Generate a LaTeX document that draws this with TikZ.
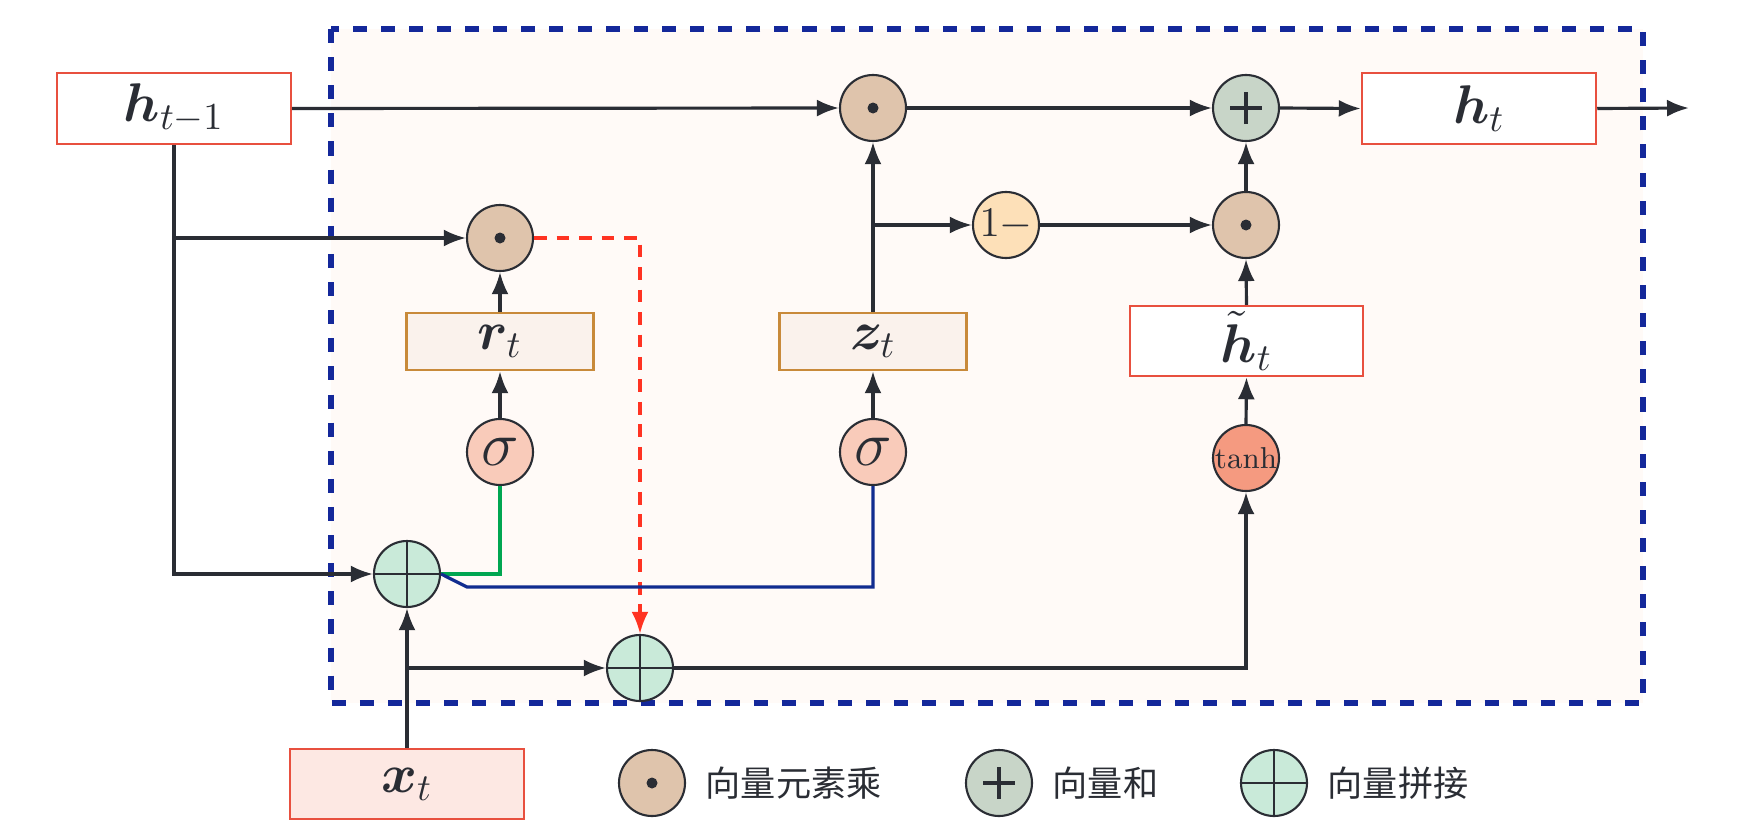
\documentclass[tikz,border=0pt]{standalone}
\usepackage{fix-cm}
\usepackage{amsmath}
\usepackage{bm}
\usepackage{fontspec}
\newfontfamily\cjk{Noto Sans CJK SC}
\usetikzlibrary{positioning,arrows.meta,calc}
\definecolor{inkc}{HTML}{2A2D34}
\definecolor{boxred}{HTML}{E8503F}
\definecolor{gatebd}{HTML}{C88A3A}
\definecolor{gatefill}{HTML}{FAF2EC}
\definecolor{xfill}{HTML}{FDE8E3}
\definecolor{cellbg}{HTML}{FFFAF7}
\definecolor{cellbd}{HTML}{14289A}
\definecolor{mulfill}{HTML}{DFC4AC}
\definecolor{addfill}{HTML}{C8D5C8}
\definecolor{catfill}{HTML}{C9EAD9}
\definecolor{onefill}{HTML}{FDE0B8}
\definecolor{sigfill}{HTML}{F9CBBA}
\definecolor{tanhfill}{HTML}{F59A80}
\definecolor{resetred}{HTML}{FF3322}
\definecolor{rgreen}{HTML}{00A651}
\definecolor{zblue}{HTML}{112C8F}
\newcommand{\lblfont}{\fontsize{15.5pt}{18pt}\selectfont}
\tikzset{
  gruarr/.style={-{Latex[length=2.2mm,width=1.7mm]},line width=0.9pt,draw=inkc},
  resetarr/.style={-{Latex[length=2.2mm,width=1.7mm]},line width=1pt,draw=resetred,
                   dash pattern=on 3.6pt off 2.8pt},
  gateline/.style={line width=0.9pt},
  cellframe/.style={draw=cellbd,fill=cellbg,line width=1.5pt,dash pattern=on 4pt off 4pt},
  vecbox/.style={draw=boxred,line width=0.7pt,fill=white,minimum width=2.34cm,minimum height=0.71cm,
                 inner sep=0pt,text=inkc,font=\lblfont},
  gatebox/.style={draw=gatebd,line width=0.7pt,fill=gatefill,minimum width=1.87cm,minimum height=0.57cm,
                  inner sep=0pt,text=inkc,font=\lblfont},
  opnode/.style={circle,draw=inkc,line width=0.6pt,minimum size=0.66cm,inner sep=0pt,text=inkc},
  mulop/.style={opnode,fill=mulfill,
                path picture={\fill[inkc] (path picture bounding box.center) circle (0.055cm);}},
  addop/.style={opnode,fill=addfill,
                path picture={\draw[inkc,line width=1.1pt]
                  ([xshift=-0.16cm]path picture bounding box.center) -- ([xshift=0.16cm]path picture bounding box.center)
                  ([yshift=-0.16cm]path picture bounding box.center) -- ([yshift=0.16cm]path picture bounding box.center);}},
  catop/.style={opnode,fill=catfill,
                path picture={\draw[inkc,line width=0.6pt]
                  (path picture bounding box.north) -- (path picture bounding box.south)
                  (path picture bounding box.west) -- (path picture bounding box.east);}},
  actop/.style={opnode,font=\fontsize{18pt}{20pt}\selectfont},
  legtext/.style={text=inkc,font=\cjk\fontsize{10pt}{12pt}\selectfont,inner sep=2pt}
}
\begin{document}
\begin{tikzpicture}
\useasboundingbox (0,0) rectangle (17.55,-8.40);
\draw[cellframe] (3.31,-0.29) rectangle (16.43,-7.03);

\node[vecbox] (hprev) at (1.74,-1.085) {$\bm{h}_{t-1}$};
\node[vecbox] (hnew) at (14.79,-1.085) {$\bm{h}_{t}$};
\node[vecbox, minimum width=2.33cm, minimum height=0.70cm] (htil) at (12.465,-3.41) {$\tilde{\bm{h}}_{t}$};
\node[vecbox, fill=xfill, minimum height=0.70cm] (xt) at (4.07,-7.84) {$\bm{x}_{t}$};
\node[gatebox] (rbox) at (5.0,-3.415) {$\bm{r}_{t}$};
\node[gatebox] (zbox) at (8.73,-3.415) {$\bm{z}_{t}$};

\node[mulop] (mtop) at (8.73,-1.08) {};
\node[addop] (addn) at (12.46,-1.08) {};
\node[mulop] (mr) at (5.0,-2.38) {};
\node[opnode, fill=onefill, font=\fontsize{12pt}{14pt}\selectfont] (one) at (10.06,-2.25) {$1-$};
\node[mulop] (mz) at (12.46,-2.25) {};
\node[actop, fill=sigfill] (sigr) at (5.0,-4.52) {$\sigma$};
\node[actop, fill=sigfill] (sigz) at (8.73,-4.52) {$\sigma$};
\node[opnode, fill=tanhfill, font=\fontsize{8.6pt}{10pt}\selectfont] (tanhn) at (12.46,-4.58) {tanh};
\node[catop] (cat1) at (4.07,-5.74) {};
\node[catop] (cat2) at (6.40,-6.68) {};
\coordinate (hout) at (16.89,-1.08);
\coordinate (zbend) at (4.67,-5.87);

\draw[gruarr] (hprev.east) -- (mtop.west);
\draw[gruarr] (mtop.east) -- (addn.west);
\draw[gruarr] (addn.east) -- (hnew.west);
\draw[gruarr] (hnew.east) -- (hout);
\draw[gruarr] (hprev.south) |- (cat1.west);
\draw[gruarr] (hprev.south |- mr.west) -- (mr.west);
\draw[resetarr] (mr.east) -| (cat2.north);
\draw[gruarr] (rbox.north) -- (mr.south);
\draw[gruarr] (sigr.north) -- (rbox.south);
\draw[gateline, rgreen] (cat1.east) -| (sigr.south);
\draw[gateline, zblue] (cat1.east) -- (zbend) -| (sigz.south);
\draw[gruarr] (sigz.north) -- (zbox.south);
\draw[gruarr] (zbox.north) -- (mtop.south);
\draw[gruarr] (zbox.north |- one.west) -- (one.west);
\draw[gruarr] (one.east) -- (mz.west);
\draw[gruarr] (mz.north) -- (addn.south);
\draw[gruarr] (htil.north) -- (mz.south);
\draw[gruarr] (tanhn.north) -- (htil.south);
\draw[gruarr] (cat2.east) -| (tanhn.south);
\draw[gruarr] (xt.north) -- (cat1.south);
\draw[gruarr] (xt.north |- cat2.west) -- (cat2.west);

\node[mulop] (lgmul) at (6.52,-7.83) {};
\node[legtext, right=0.12cm of lgmul] (lgmultxt) {向量元素乘};
\node[addop] (lgadd) at (9.99,-7.83) {};
\node[legtext, right=0.12cm of lgadd] (lgaddtxt) {向量和};
\node[catop] (lgcat) at (12.74,-7.83) {};
\node[legtext, right=0.12cm of lgcat] (lgcattxt) {向量拼接};
\end{tikzpicture}
\end{document}
